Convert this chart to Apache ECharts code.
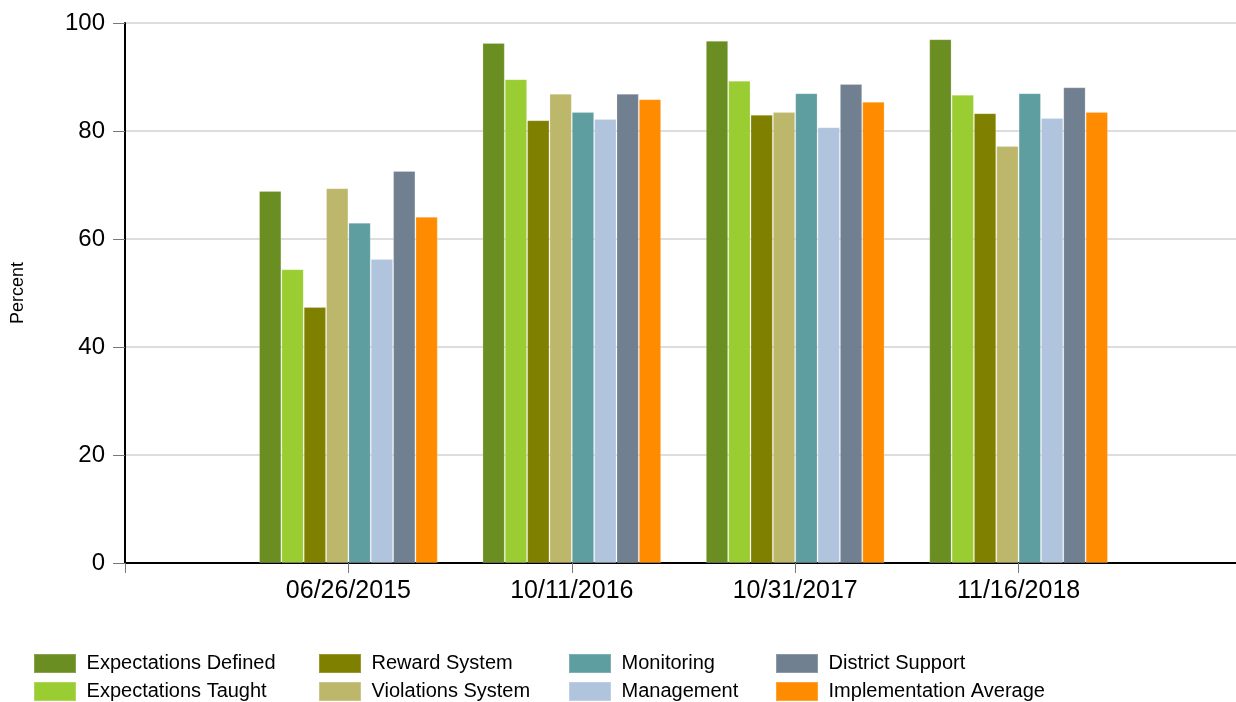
<!DOCTYPE html>
<html>
<head>
	<meta charset="utf-8">
	<script src="https://cdn.jsdelivr.net/npm/echarts@6/dist/echarts.min.js"></script>
</head>
<body style="margin:0;background:#fff;">
	<div id="main" style="width:1236px;height:702px;"></div>
</body>
<script type="text/javascript">
var dates = ['06/26/2015', '10/11/2016', '10/31/2017', '11/16/2018'];
var yTicks = [0, 20, 40, 60, 80, 100];

var expDefined = [68.9, 96.3, 96.7, 97.0];
var expTaught = [54.4, 89.6, 89.3, 86.7];
var rewardSys = [47.4, 82.0, 83.0, 83.3];
var violationsSys = [69.4, 86.9, 83.5, 77.2];
var monitoring = [63.0, 83.5, 87.0, 87.0];
var management = [56.3, 82.2, 80.7, 82.4];
var districtSupport = [72.6, 86.9, 88.7, 88.1];
var implAverage = [64.1, 85.9, 85.4, 83.5];

var names = ['Expectations Defined', 'Expectations Taught', 'Reward System', 'Violations System',
	'Monitoring', 'Management', 'District Support', 'Implementation Average'];
var colors = ['#6B8E23', '#9ACD32', '#808000', '#BDB76B', '#5F9EA0', '#B0C4DE', '#708090', '#FF8C00'];
var values = [expDefined, expTaught, rewardSys, violationsSys, monitoring, management, districtSupport, implAverage];

// empty slot at each end so the ticks sit like the original
var cats = [''].concat(dates).concat(['']);

var series = [];
for (var i = 0; i < names.length; i++) {
	series.push({
		name: names[i],
		type: 'bar',
		barGap: '0%',
		barCategoryGap: '20%',
		itemStyle: { color: colors[i], borderColor: 'rgba(255,255,255,0.2)', borderWidth: 1 },
		data: [null].concat(values[i]).concat([null]),
		animation: false
	});
}

// four little legends, two rows each
var legendCols = [[33, 0], [318, 2], [568, 4], [775, 6]];
var legends = legendCols.map(function (c) {
	return {
		orient: 'vertical',
		left: c[0],
		top: 653,
		height: 60,
		padding: 0,
		icon: 'rect',
		itemWidth: 42,
		itemHeight: 19,
		itemGap: 7,
		selectedMode: false,
		formatter: function (n) { return ' ' + n; },
		data: [names[c[1]], names[c[1] + 1]],
		textStyle: { fontFamily: 'Liberation Sans', fontSize: 20, lineHeight: 19, color: '#000' }
	};
});

var option = {
	backgroundColor: '#fff',
	grid: { left: 125, top: 23, right: -6, bottom: 139, containLabel: false, outerBoundsMode: 'none' },
	legend: legends,
	xAxis: {
		type: 'category',
		data: cats,
		boundaryGap: false,
		axisLine: { lineStyle: { color: '#000', width: 2 } },
		axisTick: { length: 10, lineStyle: { color: '#777' } },
		axisLabel: { fontFamily: 'Liberation Sans', fontSize: 25, color: '#000', margin: 16 },
		splitLine: { show: false }
	},
	yAxis: {
		type: 'value',
		min: yTicks[0],
		max: yTicks[yTicks.length - 1],
		interval: 20,
		name: 'Percent',
		nameLocation: 'middle',
		nameGap: 98,
		nameTextStyle: { fontFamily: 'Liberation Sans', fontSize: 18, color: '#000' },
		axisLine: { show: true, lineStyle: { color: '#000', width: 2 } },
		axisTick: { show: true, length: 12, lineStyle: { color: '#777' } },
		axisLabel: { fontFamily: 'Liberation Sans', fontSize: 24, color: '#000', margin: 20 },
		splitLine: { lineStyle: { color: '#ddd', width: 2 } }
	},
	series: series
};

var myChart = echarts.init(document.getElementById('main'));
myChart.setOption(option);
</script>
</html>
